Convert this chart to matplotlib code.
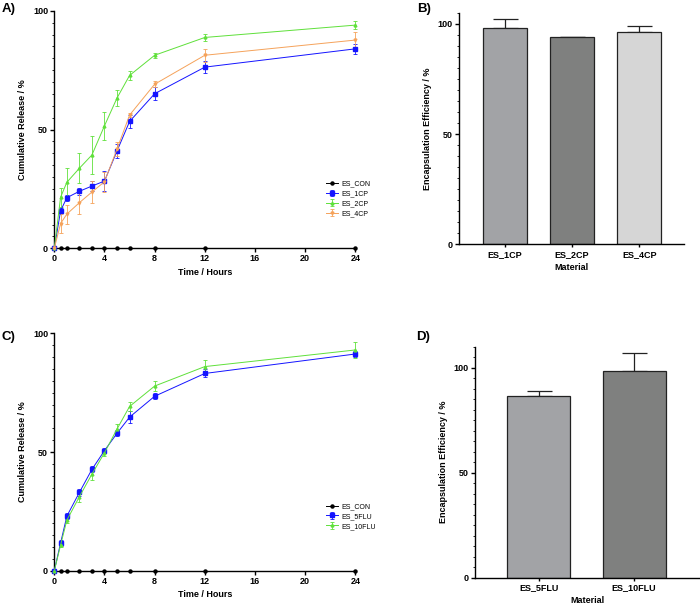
import numpy as np
import matplotlib.pyplot as plt
from matplotlib.ticker import MultipleLocator

plt.rcParams['font.family'] = ['Liberation Sans', 'DejaVu Sans']

# release time points (hours)
tiempo = [0, 0.5, 1, 2, 3, 4, 5, 6, 8, 12, 24]

# Panel A - CP release
con_a = [0, 0, 0, 0, 0, 0, 0, 0, 0, 0, 0]
cp1 = [0, 15.8, 21.3, 24.0, 26.2, 28.3, 41.0, 53.4, 65.1, 76.3, 84.0]
cp1_err = [0, 1.0, 1.2, 1.5, 2.2, 4.3, 3.0, 2.6, 2.7, 2.6, 2.1]
cp2 = [0, 21.5, 27.8, 33.7, 39.3, 51.6, 63.3, 72.8, 81.3, 88.8, 94.0]
cp2_err = [0, 4.0, 6.0, 6.3, 8.0, 5.8, 3.2, 2.0, 1.0, 1.3, 1.7]
cp4 = [0, 10.4, 14.4, 19.2, 23.7, 28.0, 41.8, 56.1, 69.1, 81.3, 87.7]
cp4_err = [0, 4.0, 4.0, 4.7, 4.6, 4.2, 3.0, 1.0, 1.3, 2.8, 3.2]

# Panel C - FLU release
con_c = [0, 0, 0, 0, 0, 0, 0, 0, 0, 0, 0]
flu5 = [0, 11.7, 23.0, 33.0, 42.7, 50.6, 57.9, 64.7, 73.5, 83.1, 91.3]
flu5_err = [0, 1.3, 1.4, 1.6, 1.3, 1.1, 1.2, 2.5, 1.2, 1.7, 1.2]
flu10 = [0, 10.8, 21.3, 31.2, 40.7, 49.7, 59.7, 69.2, 77.8, 86.0, 93.0]
flu10_err = [0, 1.0, 1.3, 2.1, 2.3, 1.5, 2.2, 1.9, 2.1, 2.8, 3.5]

# Panel B / D - encapsulation efficiency
mat_b = ['ES_1CP', 'ES_2CP', 'ES_4CP']
ee_b = [97.9, 94.0, 96.2]
ee_b_err = [4.1, 0.2, 2.8]
mat_d = ['ES_5FLU', 'ES_10FLU']
ee_d = [86.5, 98.3]
ee_d_err = [2.5, 8.7]

AZUL = '#1414ff'
VERDE = '#5fe03a'
NARANJA = '#f5a25a'

fig = plt.figure(figsize=(7.0, 6.04), dpi=100)


def estilo(ax):
    for s in ['top', 'right']:
        ax.spines[s].set_visible(False)
    for s in ['left', 'bottom']:
        ax.spines[s].set_linewidth(1.0)
    ax.tick_params(axis='both', labelsize=6.5, width=1.0, length=3, pad=1.5)
    ax.tick_params(axis='y', which='minor', length=1.5, width=0.6)
    for lab in ax.get_xticklabels() + ax.get_yticklabels():
        lab.set_fontweight('bold')


def liberacion(ax, series):
    for nombre, y, err, color, marker, ms in series:
        ax.errorbar(tiempo, y, yerr=err, color=color, marker=marker, ms=ms,
                    lw=0.7, elinewidth=0.6, capsize=1.5, capthick=0.6,
                    label=nombre, clip_on=False, zorder=3)
    ax.set_xlim(0, 24)
    ax.set_ylim(0, 100)
    ax.set_xticks(range(0, 25, 4))
    ax.set_yticks([0, 50, 100])
    ax.yaxis.set_minor_locator(MultipleLocator(5))
    ax.set_xlabel('Time / Hours', fontsize=6.5, fontweight='bold', labelpad=3)
    ax.set_ylabel('Cumulative Release / %', fontsize=6.5, fontweight='bold', labelpad=4)
    estilo(ax)
    ax.legend(loc='upper left', bbox_to_anchor=(0.895, 0.297), fontsize=5, frameon=False,
              handlelength=1.6, labelspacing=0.42, handletextpad=0.5, borderaxespad=0)


def barras(ax, mats, vals, errs, colores, ylim, xlim):
    x = np.arange(len(mats))
    ax.bar(x, vals, width=0.66, color=colores, edgecolor='#222222', linewidth=0.9, zorder=2)
    ax.errorbar(x, vals, yerr=[np.zeros(len(errs)), errs], fmt='none', ecolor='#222222',
                elinewidth=0.9, capsize=9, capthick=0.9, zorder=1)
    ax.set_xlim(*xlim)
    ax.set_ylim(0, ylim)
    ax.set_xticks(x)
    ax.set_xticklabels(mats)
    ax.set_yticks([0, 50, 100])
    ax.yaxis.set_minor_locator(MultipleLocator(5))
    ax.set_xlabel('Material', fontsize=6.5, fontweight='bold', labelpad=3)
    ax.set_ylabel('Encapsulation Efficiency / %', fontsize=6.5, fontweight='bold', labelpad=4)
    estilo(ax)
    ax.tick_params(axis='x', length=2.5, labelsize=6.5)


# A)
ax_a = fig.add_axes([0.0776, 0.589, 0.430, 0.393])
liberacion(ax_a, [
    ('ES_CON', con_a, None, 'black', 'o', 2.2),
    ('ES_1CP', cp1, cp1_err, AZUL, 's', 2.6),
    ('ES_2CP', cp2, cp2_err, VERDE, '^', 2.0),
    ('ES_4CP', cp4, cp4_err, NARANJA, 'v', 2.0),
])

# C)
ax_c = fig.add_axes([0.0776, 0.0551, 0.430, 0.393])
liberacion(ax_c, [
    ('ES_CON', con_c, None, 'black', 'o', 2.2),
    ('ES_5FLU', flu5, flu5_err, AZUL, 's', 2.6),
    ('ES_10FLU', flu10, flu10_err, VERDE, '^', 2.0),
])

# B)
ax_b = fig.add_axes([0.656, 0.5955, 0.3214, 0.3835])
barras(ax_b, mat_b, ee_b, ee_b_err, ['#a2a3a6', '#7f807f', '#d6d6d6'], 105, (-0.68, 2.67))

# D)
ax_d = fig.add_axes([0.6786, 0.0435, 0.3214, 0.3825])
barras(ax_d, mat_d, ee_d, ee_d_err, ['#a2a3a6', '#7f807f'], 110, (-0.668, 1.69))

for txt, xx, yy in [('A)', 0.002, 0.995), ('B)', 0.596, 0.995),
                    ('C)', 0.002, 0.452), ('D)', 0.594, 0.452)]:
    fig.text(xx, yy, txt, fontsize=9.5, fontweight='bold', va='top', ha='left')

plt.savefig('out.png', dpi=100)
plt.close()
